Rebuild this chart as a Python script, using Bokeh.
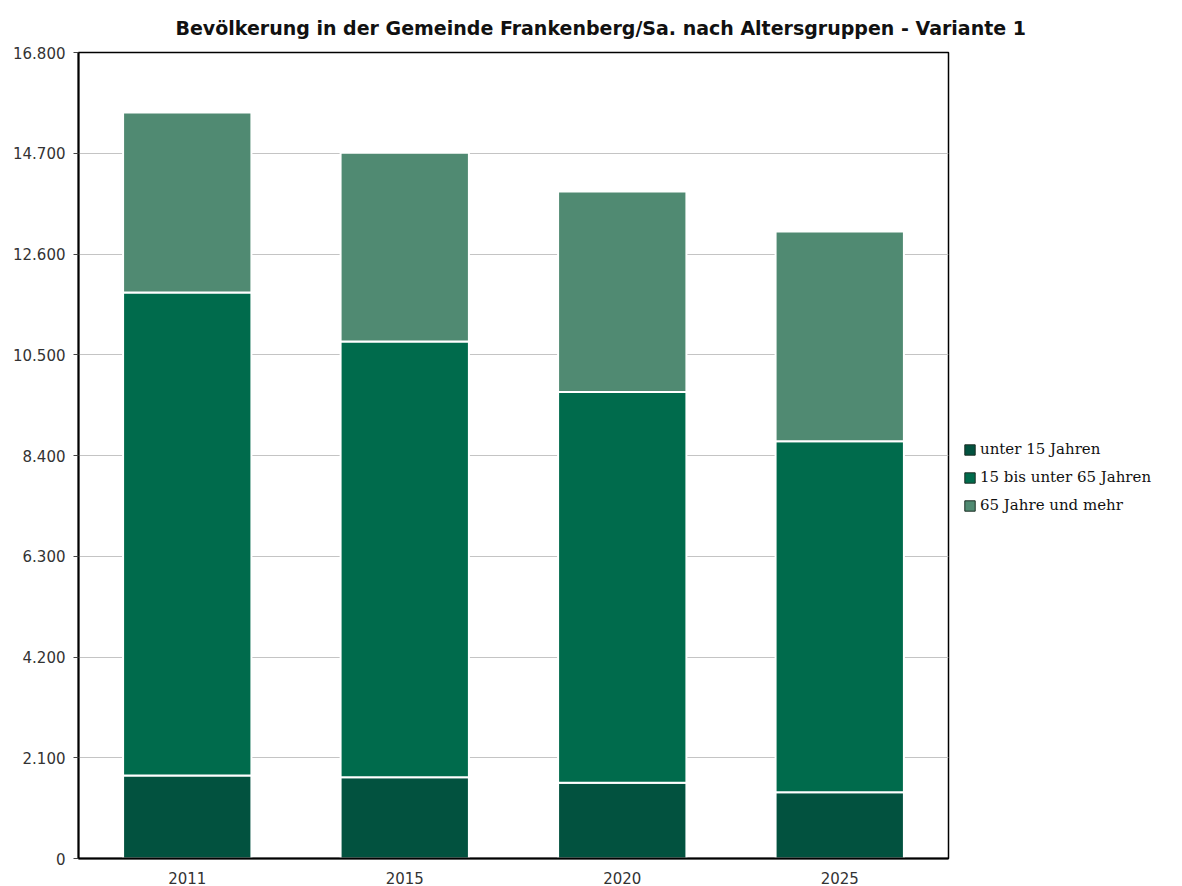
from bokeh.plotting import figure
from bokeh.models import FixedTicker, ColumnDataSource, Legend, LegendItem
from bokeh.embed import file_html
from bokeh.resources import INLINE

years = ["2011", "2015", "2020", "2025"]
unter_15 = [1730, 1695, 1578, 1382]
von_15_bis_65 = [10067, 9081, 8146, 7316]
ab_65 = [3752, 3933, 4179, 4371]
series_names = ["unter 15 Jahren", "15 bis unter 65 Jahren", "65 Jahre und mehr"]
colors = ["#02523f", "#006b4c", "#508a72"]
y_ticks = [0, 2100, 4200, 6300, 8400, 10500, 12600, 14700, 16800]
y_tick_labels = ["0", "2.100", "4.200", "6.300", "8.400", "10.500", "12.600", "14.700", "16.800"]

source = ColumnDataSource(dict(year=years, s0=unter_15, s1=von_15_bis_65, s2=ab_65))

p = figure(x_range=years, y_range=(0, 16800), output_backend="svg", toolbar_location=None,
           frame_width=870, frame_height=806, min_border_left=78, min_border_right=232,
           min_border_top=52, min_border_bottom=26,
           title="Bevölkerung in der Gemeinde Frankenberg/Sa. nach Altersgruppen - Variante 1")
p.width = 1180
p.height = 884

# legend proxies (zero-height bars at y=0, hidden under the axis line) with dark outline
proxy = ColumnDataSource(dict(x=[years[0]], top=[0], bottom=[0]))
items = []
for name, c in zip(series_names, colors):
    r = p.vbar(x="x", top="top", bottom="bottom", width=0.3, source=proxy, fill_color=c,
               line_color="#1a2e24", line_width=1)
    items.append(LegendItem(label=name, renderers=[r]))

p.vbar_stack(["s0", "s1", "s2"], x="year", width=0.59, source=source, color=colors,
             line_color="white", line_width=2)

legend = Legend(items=items, location=(15, 344))
legend.border_line_color = None
legend.background_fill_alpha = 0
legend.glyph_width = 13
legend.glyph_height = 13
legend.label_text_font = "DejaVu Serif"
legend.label_text_font_size = "15px"
legend.label_text_color = "#111111"
legend.spacing = 10
legend.padding = 0
legend.margin = 0
legend.label_standoff = 4
p.add_layout(legend, "right")

p.title.text_font = "DejaVu Sans"
p.title.text_font_style = "bold"
p.title.text_font_size = "19px"
p.title.align = "left"
p.title.offset = 97
p.title.standoff = 27
p.title.text_color = "#111111"

p.outline_line_color = "black"
p.outline_line_width = 1.5
p.outline_line_alpha = 1

p.yaxis.ticker = FixedTicker(ticks=y_ticks)
p.yaxis.major_label_overrides = {t: l for t, l in zip(y_ticks, y_tick_labels)}
p.yaxis.minor_tick_line_color = None
p.yaxis.major_tick_in = 0
p.yaxis.major_tick_out = 5
p.yaxis.major_tick_line_color = "#444444"
p.yaxis.axis_line_color = "black"
p.yaxis.axis_line_width = 2
p.xaxis.axis_line_color = "black"
p.xaxis.axis_line_width = 2
p.xaxis.major_tick_line_color = None
p.xaxis.minor_tick_line_color = None
for ax in (p.xaxis, p.yaxis):
    ax.major_label_text_font = "DejaVu Sans"
    ax.major_label_text_font_size = "15px"
    ax.major_label_text_color = "#333333"
p.yaxis.major_label_standoff = 8
p.xaxis.major_label_standoff = 7

p.xgrid.grid_line_color = None
p.ygrid.grid_line_color = "#c4c4c4"
p.ygrid.grid_line_width = 1
p.x_range.range_padding = 0

open("out.html", "w").write(file_html(p, INLINE))
